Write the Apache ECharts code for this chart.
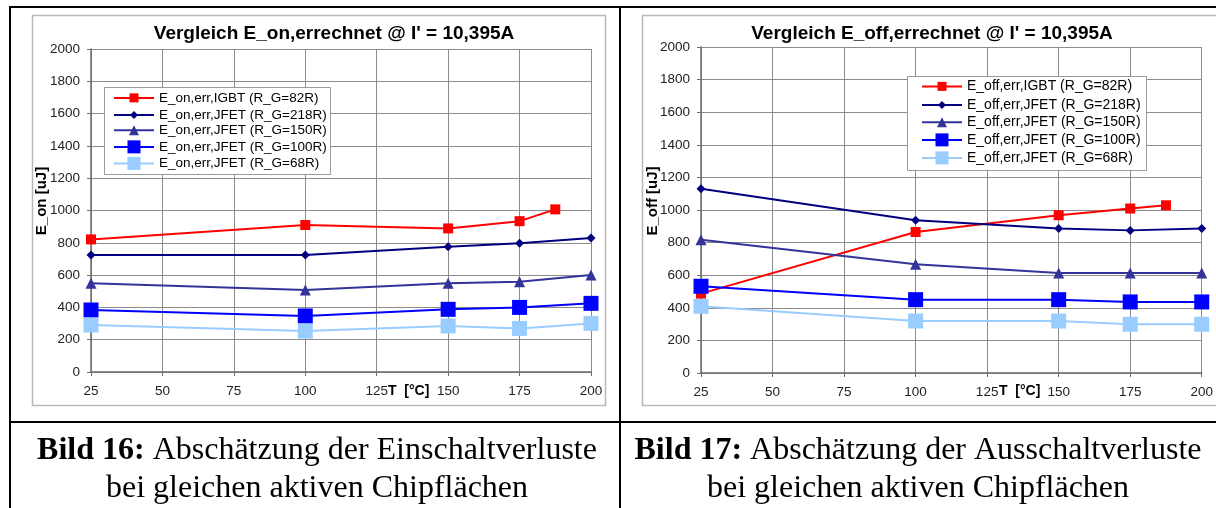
<!DOCTYPE html>
<html>
<head>
<meta charset="utf-8">
<script src="https://cdn.jsdelivr.net/npm/echarts@6/dist/echarts.min.js"></script>
<style>
  html, body { margin: 0; padding: 0; background: #fff; }
  #c { width: 1216px; height: 508px; }
</style>
</head>
<body>
<div id="c"></div>
<script>
// Temperatures (°C) at which the losses were evaluated
const tempsJfet = [25, 100, 150, 175, 200];
const tempsIgbt = [25, 100, 150, 175, 187.5];

// Switch-on energy E_on [uJ]
const eOnIgbt82 = [821, 910, 889, 934, 1007];
const eOnJfet218 = [724, 724, 776, 797, 830];
const eOnJfet150 = [549, 508, 549, 559, 600];
const eOnJfet100 = [384, 347, 388, 400, 425];
const eOnJfet68 = [291, 254, 285, 270, 301];

// Switch-off energy E_off [uJ]
const eOffIgbt82 = [487, 865, 968, 1009, 1029];
const eOffJfet218 = [1131, 937, 886, 875, 886];
const eOffJfet150 = [818, 667, 614, 614, 614];
const eOffJfet100 = [532, 450, 450, 436, 436];
const eOffJfet68 = [409, 319, 319, 299, 299];

// Axis ranges
const xMin = 25, xMax = 200, xStep = 25;
const yMin = 0, yMax = 2000, yStep = 200;

// Series labels
const onNames = [
  'E_on,err,IGBT (R_G=82R)',
  'E_on,err,JFET (R_G=218R)',
  'E_on,err,JFET (R_G=150R)',
  'E_on,err,JFET (R_G=100R)',
  'E_on,err,JFET (R_G=68R)'
];
const offNames = [
  'E_off,err,IGBT (R_G=82R)',
  'E_off,err,JFET (R_G=218R)',
  'E_off,err,JFET (R_G=150R)',
  'E_off,err,JFET (R_G=100R)',
  'E_off,err,JFET (R_G=68R)'
];

// Titles and captions
const titleOn = "Vergleich E_on,errechnet @ I' = 10,395A";
const titleOff = "Vergleich E_off,errechnet @ I' = 10,395A";
const yNameOn = 'E_on [uJ]';
const yNameOff = 'E_off [uJ]';
const xName = 'T  [°C]';
const caption16 = ['Bild 16:', 'Abschätzung der Einschaltverluste', 'bei gleichen aktiven Chipflächen'];
const caption17 = ['Bild 17:', 'Abschätzung der Ausschaltverluste', 'bei gleichen aktiven Chipflächen'];

const SANS = '"Liberation Sans", Arial, sans-serif';
const SERIF = '"Liberation Serif", "Times New Roman", serif';

// Per-series look: colour, marker, marker size, line width, legend marker size
const looks = [
  { color: '#ff0000', symbol: 'rect', size: 10, lw: 2, legendSize: 9 },
  { color: '#000080', symbol: 'diamond', size: 9, lw: 2, legendSize: 8 },
  { color: '#333399', symbol: 'triangle', size: 11, lw: 2, legendSize: 10 },
  { color: '#0000ff', symbol: 'rect', size: 15, lw: 2, legendSize: 13 },
  { color: '#99ccff', symbol: 'rect', size: 15, lw: 2, legendSize: 13 }
];

function pairs(xs, ys) { return xs.map((x, i) => [x, ys[i]]); }

function makeSeries(names, sets, gridIdx) {
  return names.map((name, i) => ({
    name: name,
    type: 'line',
    xAxisIndex: gridIdx,
    yAxisIndex: gridIdx,
    data: pairs(i === 0 ? tempsIgbt : tempsJfet, sets[i]),
    symbol: looks[i].symbol,
    symbolSize: looks[i].size,
    showAllSymbol: true,
    clip: false,
    animation: false,
    lineStyle: { color: looks[i].color, width: looks[i].lw },
    itemStyle: { color: looks[i].color, borderWidth: 0 },
    emphasis: { disabled: true },
    z: 2 + i
  }));
}

// One legend entry per series so that each keeps its own marker size
function makeLegends(names, left, rowCenters, fontSize) {
  return names.map((name, i) => {
    const ih = looks[i].legendSize / 0.8;
    const nudge = ih > 15 ? 2.5 : 0;
    return {
      data: [name],
      left: left,
      top: rowCenters[i] - ih / 2 + nudge,
      orient: 'horizontal',
      padding: 0,
      itemWidth: 40,
      itemHeight: ih,
      itemGap: 0,
      selectedMode: false,
      textStyle: { fontFamily: SANS, fontSize: fontSize, color: '#000', lineHeight: 9, padding: 0 },
      z: 6
    };
  });
}

function xAxisOpt(gridIdx) {
  return {
    type: 'value', gridIndex: gridIdx,
    min: xMin, max: xMax, interval: xStep,
    axisLine: { show: true, onZero: false, lineStyle: { color: '#6e6e6e', width: 1.5 } },
    axisTick: { show: true, inside: false, length: 4, lineStyle: { color: '#6e6e6e' } },
    axisLabel: { fontFamily: SANS, fontSize: 13.5, color: '#222', margin: 12, formatter: v => String(v) },
    splitLine: { show: true, lineStyle: { color: '#8c8c8c', width: 1 } }
  };
}

function yAxisOpt(gridIdx) {
  return {
    type: 'value', gridIndex: gridIdx,
    min: yMin, max: yMax, interval: yStep,
    axisLine: { show: true, lineStyle: { color: '#6e6e6e', width: 1.5 } },
    axisTick: { show: true, inside: false, length: 4, lineStyle: { color: '#6e6e6e' } },
    axisLabel: { fontFamily: SANS, fontSize: 13.5, color: '#222', margin: 11, formatter: v => String(v) },
    splitLine: { show: true, lineStyle: { color: '#8c8c8c', width: 1 } }
  };
}

function tableLine(x1, y1, x2, y2) {
  return { type: 'line', shape: { x1, y1, x2, y2 }, style: { stroke: '#000', lineWidth: 2 }, z: 10, silent: true };
}

function label(text, x, y, font, extra, align) {
  return Object.assign({
    type: 'text', x: x, y: y, silent: true, z: 6,
    style: { text: text, align: align || 'center', verticalAlign: 'middle', font: font, fill: '#000' }
  }, extra || {});
}

function caption(parts, cx) {
  return [
    {
      type: 'text', x: cx, y: 451, silent: true, z: 10,
      style: {
        text: '{b|' + parts[0] + '} ' + parts[1],
        align: 'center', verticalAlign: 'middle',
        font: '32px ' + SERIF, fill: '#000',
        rich: { b: { fontFamily: SERIF, fontSize: 32, fontWeight: 'bold', fill: '#000' } }
      }
    },
    label(parts[2], cx, 489, '32px ' + SERIF, { z: 10 })
  ];
}

const chart = echarts.init(document.getElementById('c'), null, { renderer: 'canvas' });

chart.setOption({
  backgroundColor: '#fff',
  animation: false,
  grid: [
    { left: 91, top: 49, width: 500, height: 323 },
    { left: 701, top: 47, width: 503, height: 326 }
  ],
  xAxis: [xAxisOpt(0), xAxisOpt(1)],
  yAxis: [yAxisOpt(0), yAxisOpt(1)],
  legend: [].concat(
    makeLegends(onNames, 113, [96.5, 113, 129.5, 145.5, 162], 13.5),
    makeLegends(offNames, 921, [85, 103, 121.5, 138.5, 156.5], 14)
  ),
  series: [].concat(
    makeSeries(onNames, [eOnIgbt82, eOnJfet218, eOnJfet150, eOnJfet100, eOnJfet68], 0),
    makeSeries(offNames, [eOffIgbt82, eOffJfet218, eOffJfet150, eOffJfet100, eOffJfet68], 1)
  ),
  graphic: {
    elements: [
      // chart area frames
      { type: 'rect', shape: { x: 32.5, y: 15.5, width: 573, height: 390 }, style: { fill: 'none', stroke: '#b9b9b9', lineWidth: 1.5 }, z: -5, silent: true },
      { type: 'rect', shape: { x: 642.5, y: 15.5, width: 600, height: 390 }, style: { fill: 'none', stroke: '#b9b9b9', lineWidth: 1.5 }, z: -5, silent: true },
      // legend boxes
      { type: 'rect', shape: { x: 104.5, y: 87.5, width: 226, height: 87 }, style: { fill: '#fff', stroke: '#9a9a9a', lineWidth: 1 }, z: 4, silent: true },
      { type: 'rect', shape: { x: 907.5, y: 76.5, width: 239, height: 94 }, style: { fill: '#fff', stroke: '#9a9a9a', lineWidth: 1 }, z: 4, silent: true },
      // chart titles
      label(titleOn, 334, 34, 'bold 19px ' + SANS),
      label(titleOff, 932, 34, 'bold 19px ' + SANS),
      // y-axis titles (rotated)
      label(yNameOn, 42, 201, 'bold 15px ' + SANS, { rotation: Math.PI / 2 }),
      label(yNameOff, 653, 201, 'bold 15px ' + SANS, { rotation: Math.PI / 2 }),
      // x-axis titles, placed just right of the 125 tick label
      label(xName, 388, 391, 'bold 14px ' + SANS, null, 'left'),
      label(xName, 999, 391, 'bold 14px ' + SANS, null, 'left'),
      // table rules
      tableLine(9, 7, 1216, 7),
      tableLine(10, 6, 10, 508),
      tableLine(620, 6, 620, 508),
      tableLine(9, 422, 1216, 422)
    ].concat(caption(caption16, 317), caption(caption17, 918))
  }
});
</script>
</body>
</html>
